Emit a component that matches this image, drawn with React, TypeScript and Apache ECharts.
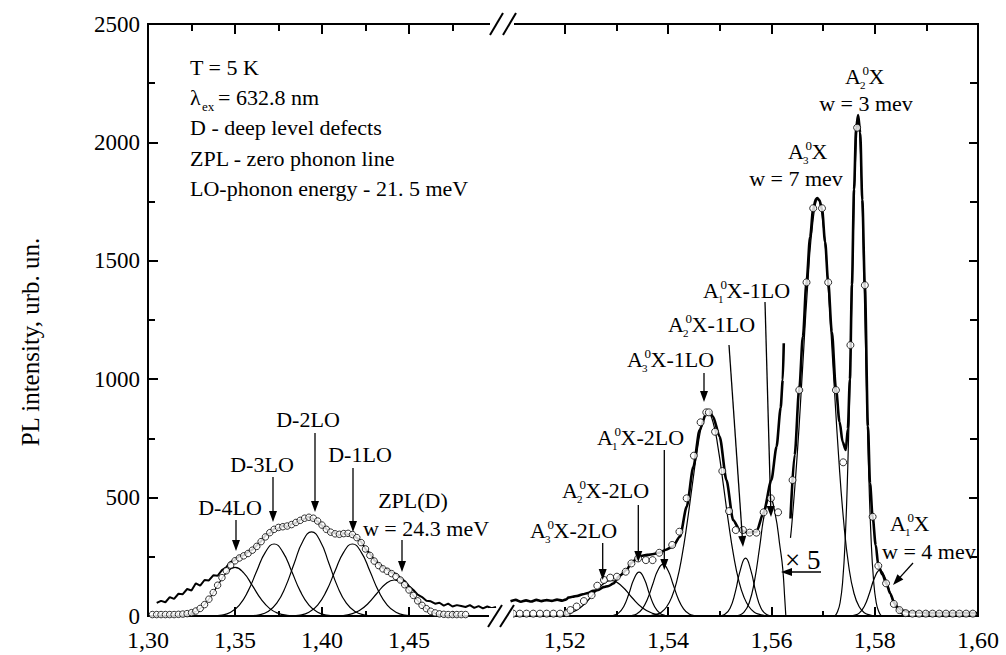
import React, { useEffect, useRef } from 'react';
import * as echarts from 'echarts';

const FONT = 'Liberation Serif';

// ---------- tick values ----------
const leftMajorTicks = [1.35, 1.4, 1.45];
const leftMinorTicks = [1.325, 1.375, 1.425, 1.475];
const leftTickLabels = [1.3, 1.35, 1.4, 1.45];
const rightMajorTicks = [1.52, 1.54, 1.56, 1.58];
const rightMinorTicks = [1.51, 1.53, 1.55, 1.57, 1.59];
const rightTickLabels = [1.52, 1.54, 1.56, 1.58, 1.6];
const yMajorTicks = [500, 1000, 1500, 2000];
const yMinorTicks = [250, 750, 1250, 1750, 2250];
const yTickLabels = [0, 500, 1000, 1500, 2000, 2500];

// ---------- left part (deep level defects) ----------
const leftStep = 0.0025;
const noisyStart = 1.305;
const leftNoisy = [
  55, 64, 58, 80, 72, 94, 92, 114, 108, 138,
  128, 152, 150, 172, 170, 194, 206, 228, 236, 252,
  256, 270, 280, 298, 316, 340, 350, 368, 370, 382,
  376, 388, 393, 406, 410, 420, 410, 400, 382, 368,
  350, 350, 340, 350, 344, 344, 330, 314, 283, 264,
  236, 222, 203, 198, 184, 178, 161, 148, 126, 110,
  90, 80, 64, 62, 52, 56, 44, 52, 40, 46,
  42, 38, 46, 34, 42, 32, 40, 33, 38,
];
const fitStart = 1.3025;
const leftFit = [
  6, 6, 6, 6, 6, 6, 7, 8, 10, 14,
  21, 32, 48, 71, 99, 130, 162, 191, 215, 233,
  245, 254, 264, 278, 294, 314, 334, 352, 366, 374,
  377, 380, 386, 395, 404, 413, 417, 413, 401, 384,
  366, 354, 347, 345, 348, 349, 344, 331, 310, 283,
  256, 232, 213, 199, 189, 179, 167, 152, 132, 110,
  87, 64, 45, 31, 20, 13, 9, 7, 6, 6,
  6, 6, 6,
];
const gD4LO = [[1.315, 0], [1.32, 3], [1.325, 11], [1.33, 31], [1.335, 71], [1.34, 128], [1.345, 182], [1.35, 205], [1.355, 182], [1.36, 128], [1.365, 71], [1.37, 31], [1.375, 11], [1.38, 3], [1.385, 0]];
const gD3LO = [[1.3375, 1], [1.3425, 4], [1.3475, 16], [1.3525, 46], [1.3575, 105], [1.3625, 190], [1.3675, 270], [1.3725, 304], [1.3775, 270], [1.3825, 190], [1.3875, 105], [1.3925, 46], [1.3975, 16], [1.4025, 4], [1.4075, 1]];
const gD2LO = [[1.359, 1], [1.364, 5], [1.369, 19], [1.374, 54], [1.379, 123], [1.384, 222], [1.389, 316], [1.394, 355], [1.399, 316], [1.404, 222], [1.409, 123], [1.414, 54], [1.419, 19], [1.424, 5], [1.429, 1]];
const gD1LO = [[1.3825, 1], [1.3875, 4], [1.3925, 16], [1.3975, 46], [1.4025, 105], [1.4075, 190], [1.4125, 270], [1.4175, 304], [1.4225, 270], [1.4275, 190], [1.4325, 105], [1.4375, 46], [1.4425, 16], [1.4475, 4], [1.4525, 1]];
const gZPL = [[1.4065, 0], [1.4115, 2], [1.4165, 8], [1.4215, 23], [1.4265, 53], [1.4315, 95], [1.4365, 135], [1.4415, 152], [1.4465, 135], [1.4515, 95], [1.4565, 53], [1.4615, 23], [1.4665, 8], [1.4715, 2], [1.4765, 0]];

// ---------- right part (excitons) ----------
const rightExpX5 = [
  [1.5095, 62], [1.5105, 68], [1.5115, 60], [1.5125, 66], [1.5135, 61], [1.5145, 68], [1.5155, 63], [1.5165, 67],
  [1.5175, 64], [1.5185, 69], [1.5195, 65], [1.5203, 70], [1.5207, 78], [1.5215, 81], [1.5225, 85], [1.5235, 92],
  [1.5245, 97], [1.5255, 106], [1.5265, 110], [1.5275, 122], [1.5285, 127], [1.5294, 137], [1.5306, 170], [1.532, 195],
  [1.5329, 225], [1.5345, 253], [1.536, 258], [1.5372, 262], [1.5384, 268], [1.5396, 280], [1.5409, 293], [1.5423, 335],
  [1.5436, 461], [1.5449, 630], [1.5461, 785], [1.5474, 856], [1.548, 863], [1.5487, 842], [1.55, 757], [1.5513, 574],
  [1.5526, 405], [1.5539, 363], [1.5555, 352], [1.5571, 355], [1.5585, 438], [1.56, 574], [1.561, 715], [1.5618, 880],
  [1.5622, 997], [1.5624, 1152],
];
const rightExpMain = [
  [1.5637, 412], [1.5645, 680], [1.5654, 960], [1.5661, 1180], [1.5668, 1410], [1.5675, 1600], [1.5681, 1720], [1.5686, 1760],
  [1.5689, 1765], [1.5693, 1755], [1.5698, 1720], [1.5704, 1580], [1.571, 1410], [1.5717, 1200], [1.5725, 960], [1.5732, 820],
  [1.5738, 735], [1.5744, 701], [1.5748, 790], [1.5752, 1000], [1.5756, 1400], [1.576, 1800], [1.5764, 2060], [1.5768, 2115],
  [1.5772, 2040], [1.5776, 1757], [1.5781, 1395], [1.5787, 800], [1.5791, 560], [1.5796, 419], [1.5802, 300], [1.5807, 215],
  [1.5815, 175], [1.5823, 135], [1.583, 95], [1.5838, 55], [1.5845, 35], [1.5855, 22], [1.587, 15], [1.59, 12],
  [1.595, 12], [1.6, 12],
];
const rightFit = [
  [1.51, 10], [1.5113, 10], [1.5126, 10], [1.5139, 10], [1.5152, 10], [1.5165, 10], [1.5178, 10], [1.5191, 10],
  [1.5204, 12], [1.5211, 25], [1.5223, 40], [1.5237, 63], [1.5252, 88], [1.5263, 128], [1.5276, 152], [1.5288, 162],
  [1.5301, 166], [1.5318, 187], [1.5329, 222], [1.5342, 243], [1.5357, 236], [1.537, 236], [1.5383, 267], [1.5408, 300],
  [1.5422, 356], [1.5436, 497], [1.545, 677], [1.5463, 818], [1.5474, 860], [1.5479, 860], [1.5491, 778], [1.5505, 612],
  [1.5518, 443], [1.5531, 363], [1.5545, 363], [1.5558, 352], [1.5571, 352], [1.5585, 438], [1.5599, 497], [1.5613, 438],
  [1.5641, 574], [1.5654, 954], [1.5668, 1409], [1.5681, 1722], [1.5698, 1722], [1.571, 1409], [1.5725, 954], [1.5739, 649],
  [1.5753, 1144], [1.5766, 2062], [1.5781, 1397], [1.5796, 419], [1.5807, 212], [1.5822, 138], [1.5837, 51], [1.5848, 25],
  [1.586, 12], [1.5873, 10], [1.5886, 10], [1.5899, 10], [1.5912, 10], [1.5925, 10], [1.5938, 10], [1.5951, 10],
  [1.5964, 10], [1.5977, 10], [1.599, 10],
];
const gA3X2LO = [[1.517, 0], [1.519, 2], [1.521, 11], [1.523, 35], [1.525, 78], [1.527, 127], [1.529, 150], [1.531, 127], [1.533, 78], [1.535, 35], [1.537, 11], [1.539, 2], [1.541, 0]];
const gA2X2LO = [[1.5289, 0], [1.5294, 2], [1.5304, 12], [1.5314, 39], [1.5324, 93], [1.5334, 156], [1.5344, 185], [1.5354, 156], [1.5364, 93], [1.5374, 39], [1.5384, 12], [1.5394, 2], [1.5399, 0]];
const gA1X2LO = [[1.532, 0], [1.533, 2], [1.534, 10], [1.535, 30], [1.536, 71], [1.537, 132], [1.538, 192], [1.539, 218], [1.54, 192], [1.541, 132], [1.542, 71], [1.543, 30], [1.544, 10], [1.545, 2], [1.546, 0]];
const gA3X1LO = [[1.5362, 0], [1.5367, 2], [1.5377, 7], [1.5387, 16], [1.5397, 38], [1.5407, 79], [1.5417, 148], [1.5427, 254], [1.5437, 394], [1.5447, 555], [1.5457, 708], [1.5467, 819], [1.5477, 860], [1.5487, 819], [1.5497, 708], [1.5507, 555], [1.5517, 394], [1.5527, 254], [1.5537, 148], [1.5547, 79], [1.5557, 38], [1.5567, 16], [1.5577, 7], [1.5587, 2], [1.5592, 0]];
const gA2X1LO = [[1.5495, 0], [1.55, 1], [1.551, 7], [1.552, 33], [1.553, 100], [1.554, 195], [1.555, 244], [1.556, 195], [1.557, 100], [1.558, 33], [1.559, 7], [1.56, 1], [1.5605, 0]];
const gA1X1LO = [[1.5532, 0], [1.5537, 3], [1.5547, 16], [1.5557, 55], [1.5567, 144], [1.5577, 287], [1.5587, 435], [1.5597, 500], [1.5607, 435], [1.5617, 287], [1.5622, 200], [1.5626, 70], [1.5628, 0]];
const gA3X = [[1.5637, 330], [1.564, 398], [1.565, 680], [1.566, 1031], [1.567, 1387], [1.568, 1658], [1.569, 1760], [1.57, 1658], [1.571, 1387], [1.572, 1031], [1.573, 680], [1.574, 398], [1.575, 207], [1.576, 95], [1.577, 39], [1.578, 14], [1.579, 5], [1.58, 0]];
const gA2X = [[1.5723, 0], [1.5728, 18], [1.5733, 56], [1.5738, 146], [1.5743, 327], [1.5748, 637], [1.5753, 1069], [1.5758, 1548], [1.5763, 1932], [1.5768, 2080], [1.5773, 1932], [1.5778, 1548], [1.5783, 1069], [1.5788, 637], [1.5793, 327], [1.5798, 146], [1.5803, 56], [1.5808, 18], [1.5813, 0]];
const gA1X = [[1.575, 0], [1.576, 3], [1.577, 12], [1.578, 41], [1.579, 97], [1.58, 163], [1.581, 194], [1.582, 163], [1.583, 97], [1.584, 41], [1.585, 12], [1.586, 3], [1.587, 0]];

// ---------- helpers ----------
const fmtX = (v: number) => v.toFixed(2).replace('.', ',');

function xAxisDef(gridIndex: number, position: string, min: number, max: number, ticks: number[], len: number, labels?: number[]) {
  return {
    type: 'value', gridIndex, position, min, max,
    axisLine: { show: true, onZero: false, lineStyle: { color: '#000', width: 2 } },
    axisTick: { show: true, inside: true, length: len, customValues: ticks, lineStyle: { color: '#000', width: 2 } },
    axisLabel: labels
      ? { show: true, customValues: labels, formatter: fmtX, fontSize: 24, lineHeight: 18, fontFamily: FONT, color: '#000', margin: 15 }
      : { show: false },
    splitLine: { show: false },
  };
}
function yAxisDef(gridIndex: number, position: string, ticks: number[], len: number, labels?: number[]) {
  return {
    type: 'value', gridIndex, position, min: 0, max: 2500,
    axisLine: { show: true, onZero: false, lineStyle: { color: '#000', width: 2 } },
    axisTick: { show: true, inside: true, length: len, customValues: ticks, lineStyle: { color: '#000', width: 2 } },
    axisLabel: labels
      ? { show: true, customValues: labels, formatter: (v: number) => String(v), fontSize: 23, lineHeight: 18, fontFamily: FONT, color: '#000', margin: 8 }
      : { show: false },
    splitLine: { show: false },
  };
}

const pairs = (start: number, vals: number[]) => vals.map((v, i) => [+(start + i * leftStep).toFixed(5), v]);

function txt(x: number, base: number, text: string, size = 22, align = 'left') {
  return {
    type: 'text', x, y: base - 0.34 * size,
    style: {
      text, fill: '#000', fontFamily: FONT, fontSize: size,
      align, verticalAlign: 'middle', textAlign: align, textVerticalAlign: 'middle',
    },
  };
}
function aLabel(x: number, base: number, sub: string, rest: string) {
  return [txt(x, base, 'A'), txt(x + 15, base + 5, sub, 11), txt(x + 17.5, base - 9, '0', 13), txt(x + 23.5, base, rest)];
}
function arrow(x1: number, y1: number, x2: number, y2: number, w = 1.3) {
  const dx = x2 - x1, dy = y2 - y1, L = Math.hypot(dx, dy);
  const ux = dx / L, uy = dy / L, hl = 11, hw = 4;
  const bx = x2 - ux * hl, by = y2 - uy * hl;
  return [
    { type: 'line', shape: { x1, y1, x2: bx + ux * 2, y2: by + uy * 2 }, style: { stroke: '#000', lineWidth: w } },
    { type: 'polygon', shape: { points: [[x2, y2], [bx - uy * hw, by + ux * hw], [bx + uy * hw, by - ux * hw]] }, style: { fill: '#000' } },
  ];
}
function seg(x1: number, y1: number, x2: number, y2: number, w = 2) {
  return { type: 'line', shape: { x1, y1, x2, y2 }, style: { stroke: '#000', lineWidth: w } };
}

function thin(data: number[][], xi: number, yi: number) {
  return { type: 'line', data, xAxisIndex: xi, yAxisIndex: yi, showSymbol: false, smooth: 0.5, lineStyle: { color: '#000', width: 1.2 }, z: 3, silent: true };
}
function thick(data: number[][], xi: number, yi: number, smooth: number, width = 2.6) {
  return { type: 'line', data, xAxisIndex: xi, yAxisIndex: yi, showSymbol: false, smooth, smoothMonotone: 'x', lineStyle: { color: '#000', width }, z: 4, silent: true };
}
function circles(data: number[][], xi: number, yi: number, size: number) {
  return {
    type: 'scatter', data, xAxisIndex: xi, yAxisIndex: yi, symbol: 'circle', symbolSize: size,
    itemStyle: { color: '#fff', borderColor: '#000', borderWidth: 1 }, z: 5, silent: true,
  };
}

const L_MIN = 1.3, L_MAX = 1.5, R_MIN = 1.5094, R_MAX = 1.6;

function buildOption() {
  const graphics: any[] = [
    // top-left notes
    txt(190, 75, 'T = 5 K'),
    txt(190, 104.5, 'λ'),
    txt(202, 111, 'ex', 13),
    txt(218, 104.5, '= 632.8 nm'),
    txt(190, 135, 'D - deep level defects'),
    txt(190, 165.5, 'ZPL - zero phonon line'),
    txt(190, 196, 'LO-phonon energy - 21. 5 meV'),
    // left labels
    txt(230, 515, 'D-4LO', 22, 'center'),
    txt(262, 472, 'D-3LO', 22, 'center'),
    txt(308, 427, 'D-2LO', 22, 'center'),
    txt(360, 462, 'D-1LO', 22, 'center'),
    txt(413, 508, 'ZPL(D)', 22, 'center'),
    txt(426, 536, 'w = 24.3 meV', 22, 'center'),
    ...arrow(236, 520, 236, 551),
    ...arrow(273, 477, 273, 522),
    ...arrow(315, 433, 315, 512),
    ...arrow(353, 468, 353, 532),
    ...arrow(402, 540, 402, 572),
    // right labels
    ...aLabel(530, 538, '3', 'X-2LO'),
    ...aLabel(562, 498, '2', 'X-2LO'),
    ...aLabel(597, 445, '1', 'X-2LO'),
    ...aLabel(627, 367, '3', 'X-1LO'),
    ...aLabel(668, 332, '2', 'X-1LO'),
    ...aLabel(703, 298, '1', 'X-1LO'),
    ...aLabel(788, 159, '3', 'X'),
    txt(796, 186, 'w = 7 mev', 22, 'center'),
    ...aLabel(845, 84, '2', 'X'),
    txt(866, 111, 'w = 3 mev', 22, 'center'),
    ...aLabel(890, 531, '1', 'X'),
    txt(882, 559, 'w = 4 mev'),
    ...arrow(602.7, 543, 602.7, 580),
    ...arrow(638.3, 505, 638.3, 562),
    ...arrow(664.3, 450, 664.3, 570),
    ...arrow(704, 373, 704, 402),
    ...arrow(729, 345, 743, 547),
    ...arrow(765, 302, 771, 517),
    ...arrow(913, 563, 893, 585),
    // x5 marker
    txt(785, 569, '× 5', 27),
    ...arrow(821, 572, 781, 572, 1.5),
    // axis breaks
    { type: 'rect', shape: { x: 489, y: 608, width: 24, height: 16 }, style: { fill: '#fff' } },
    seg(488, 627, 502, 605),
    seg(500, 627, 514, 605),
    { type: 'rect', shape: { x: 490, y: 16, width: 24, height: 16 }, style: { fill: '#fff' } },
    seg(490, 35, 503, 13),
    seg(503, 35, 516, 13),
    // y axis title
    {
      type: 'text', x: 30, y: 342, rotation: Math.PI / 2,
      style: {
        text: 'PL intensity, urb. un.', fill: '#000', fontFamily: FONT, fontSize: 25,
        align: 'center', verticalAlign: 'middle', textAlign: 'center', textVerticalAlign: 'middle',
      },
    },
  ];

  return {
    animation: false,
    backgroundColor: '#fff',
    textStyle: { fontFamily: FONT },
    grid: [
      { left: 148, top: 24, width: 348, height: 592 },
      { left: 510, top: 24, width: 468, height: 592 },
    ],
    xAxis: [
      xAxisDef(0, 'bottom', L_MIN, L_MAX, leftMajorTicks, 9, leftTickLabels),
      xAxisDef(0, 'bottom', L_MIN, L_MAX, leftMinorTicks, 5),
      xAxisDef(0, 'top', L_MIN, L_MAX, leftMajorTicks, 10),
      xAxisDef(0, 'top', L_MIN, L_MAX, leftMinorTicks, 7),
      xAxisDef(1, 'bottom', R_MIN, R_MAX, rightMajorTicks, 9, rightTickLabels),
      xAxisDef(1, 'bottom', R_MIN, R_MAX, rightMinorTicks, 5),
      xAxisDef(1, 'top', R_MIN, R_MAX, rightMajorTicks, 10),
      xAxisDef(1, 'top', R_MIN, R_MAX, rightMinorTicks, 7),
    ],
    yAxis: [
      yAxisDef(0, 'left', yMajorTicks, 10, yTickLabels),
      yAxisDef(0, 'left', yMinorTicks, 7),
      yAxisDef(1, 'right', yMajorTicks, 9),
      yAxisDef(1, 'right', yMinorTicks, 8),
    ],
    series: [
      thick(pairs(noisyStart, leftNoisy), 0, 0, 0, 2),
      thin(gD4LO, 0, 0),
      thin(gD3LO, 0, 0),
      thin(gD2LO, 0, 0),
      thin(gD1LO, 0, 0),
      thin(gZPL, 0, 0),
      circles(pairs(fitStart, leftFit), 0, 0, 6.5),

      thin(gA3X2LO, 4, 2),
      thin(gA2X2LO, 4, 2),
      thin(gA1X2LO, 4, 2),
      thin(gA3X1LO, 4, 2),
      thin(gA2X1LO, 4, 2),
      thin(gA1X1LO, 4, 2),
      thin(gA3X, 4, 2),
      thin(gA2X, 4, 2),
      thin(gA1X, 4, 2),
      thick(rightExpX5, 4, 2, 0.25),
      thick(rightExpMain, 4, 2, 0.3),
      circles(rightFit, 4, 2, 7),
    ],
    graphic: { elements: graphics.map((g) => ({ ...g, z: 100 })) },
  };
}

export default function App() {
  const ref = useRef<HTMLDivElement>(null);
  useEffect(() => {
    if (!ref.current) return;
    const chart = echarts.init(ref.current, null, { renderer: 'svg' });
    chart.setOption(buildOption() as any);
    return () => chart.dispose();
  }, []);
  return (
    <div
      ref={ref}
      style={{ position: 'fixed', left: 0, top: 0, width: 1006, height: 655, background: '#fff' }}
    />
  );
}
